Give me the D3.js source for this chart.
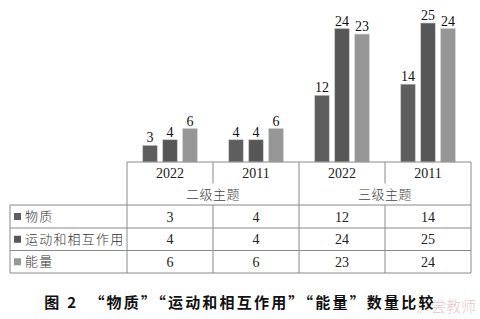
<!DOCTYPE html>
<html>
<head>
<meta charset="utf-8">
<script src="https://cdn.jsdelivr.net/npm/d3@7"></script>
<style>
body { margin: 0; background: #fff; }
</style>
</head>
<body>
<div id="chart"></div>
<script>
var years = ["2022", "2011", "2022", "2011"];
var levels = ["二级主题", "三级主题"];
var seriesNames = ["物质", "运动和相互作用", "能量"];
var matter = [3, 4, 12, 14];
var motion = [4, 4, 24, 25];
var energy = [6, 6, 23, 24];
var colors = ["#5e5e5e", "#575757", "#969696"];

var series = [matter, motion, energy];

var width = 480, height = 319;
var svg = d3.select("#chart").append("svg")
    .attr("width", width)
    .attr("height", height);

var numFont = "'Liberation Serif', 'Times New Roman', serif";
var cjkFont = "'Noto Sans CJK SC', sans-serif";

var left = 10, labelRight = 127, right = 471;
var baseY = 162;

var x = d3.scaleBand()
    .domain(d3.range(years.length))
    .range([labelRight, right]);

var xInner = d3.scaleBand()
    .domain(d3.range(seriesNames.length))
    .range([-27.25, 27.25])
    .paddingInner(0.275)
    .paddingOuter(0);

var y = d3.scaleLinear()
    .domain([0, 25])
    .range([baseY, 23]);

// bars
var rows = [];
series.forEach(function(vals, s) {
    vals.forEach(function(v, i) {
        rows.push({ s: s, i: i, v: v });
    });
});

svg.selectAll(".bar")
    .data(rows)
    .enter().append("rect")
    .attr("class", "bar")
    .attr("x", function(d) { return x(d.i) + x.bandwidth() / 2 + xInner(d.s); })
    .attr("width", xInner.bandwidth())
    .attr("y", function(d) { return y(d.v); })
    .attr("height", function(d) { return baseY - y(d.v); })
    .attr("fill", function(d) { return colors[d.s]; })
    .attr("stroke", "#c8c8c8")
    .attr("stroke-width", 0.6);

svg.selectAll(".barlabel")
    .data(rows)
    .enter().append("text")
    .attr("class", "barlabel")
    .attr("x", function(d) { return x(d.i) + x.bandwidth() / 2 + xInner(d.s) + xInner.bandwidth() / 2; })
    .attr("y", function(d) { return y(d.v) - 3; })
    .attr("text-anchor", "middle")
    .style("font-family", numFont)
    .style("font-size", "14px")
    .attr("fill", "#111")
    .text(function(d) { return d.v; });

// table
var yearRowBottom = 183.5, headBottom = 205;
var rowH = [205, 228, 250.5, 273];
var lineColor = "#8a8a8a";

function line(x1, y1, x2, y2) {
    svg.append("line")
        .attr("x1", x1).attr("y1", y1).attr("x2", x2).attr("y2", y2)
        .attr("stroke", lineColor)
        .attr("stroke-width", 1);
}

line(labelRight, baseY, right, baseY);
line(labelRight, baseY, labelRight, rowH[3]);
line(right, baseY, right, rowH[3]);
line(left, rowH[0], left, rowH[3]);
rowH.forEach(function(r) { line(left, r, right, r); });
// column lines
d3.range(1, years.length).forEach(function(i) {
    var cx = x(i);
    if (i === 2) {
        line(cx, baseY, cx, rowH[3]);
    } else {
        line(cx, baseY, cx, yearRowBottom);
        line(cx, headBottom, cx, rowH[3]);
    }
});

svg.selectAll(".year")
    .data(years)
    .enter().append("text")
    .attr("x", function(d, i) { return x(i) + x.bandwidth() / 2; })
    .attr("y", 178)
    .attr("text-anchor", "middle")
    .style("font-family", numFont)
    .style("font-size", "14px")
    .attr("fill", "#222")
    .text(function(d) { return d; });

svg.selectAll(".level")
    .data(levels)
    .enter().append("text")
    .attr("x", function(d, i) { return x(i * 2) + x.bandwidth(); })
    .attr("y", 199)
    .attr("text-anchor", "middle")
    .style("font-family", cjkFont)
    .style("font-size", "13px")
    .style("font-weight", 300)
    .style("letter-spacing", "0.5px")
    .attr("fill", "#444")
    .text(function(d) { return d; });

seriesNames.forEach(function(name, s) {
    var mid = (rowH[s] + rowH[s + 1]) / 2;
    svg.append("rect")
        .attr("x", 14)
        .attr("y", mid - 3.5)
        .attr("width", 7)
        .attr("height", 7)
        .attr("fill", colors[s]);
    svg.append("text")
        .attr("x", 25)
        .attr("y", mid + 4.5)
        .style("font-family", cjkFont)
        .style("font-size", "13px")
        .style("font-weight", 300)
        .style("letter-spacing", "1.2px")
        .attr("fill", "#333")
        .text(name);
    svg.selectAll(".cell" + s)
        .data(series[s])
        .enter().append("text")
        .attr("x", function(d, i) { return x(i) + x.bandwidth() / 2; })
        .attr("y", mid + 5)
        .attr("text-anchor", "middle")
        .style("font-family", numFont)
        .style("font-size", "14px")
        .attr("fill", "#222")
        .text(function(d) { return d; });
});

// watermark (drawn first so the caption sits on top)
svg.append("text")
    .attr("x", 476)
    .attr("y", 312)
    .attr("text-anchor", "end")
    .style("font-family", cjkFont)
    .style("font-size", "15px")
    .style("font-weight", 300)
    .attr("fill", "#e8c8ca")
    .text("沪尝教师");

// caption
svg.append("text")
    .attr("x", 240)
    .attr("y", 308)
    .attr("text-anchor", "middle")
    .style("font-family", cjkFont)
    .style("font-size", "15px")
    .style("font-weight", "bold")
    .style("letter-spacing", "2.2px")
    .attr("fill", "#111")
    .attr("xml:space", "preserve")
    .text("图 2  “物质”“运动和相互作用”“能量”数量比较");
</script>
</body>
</html>
